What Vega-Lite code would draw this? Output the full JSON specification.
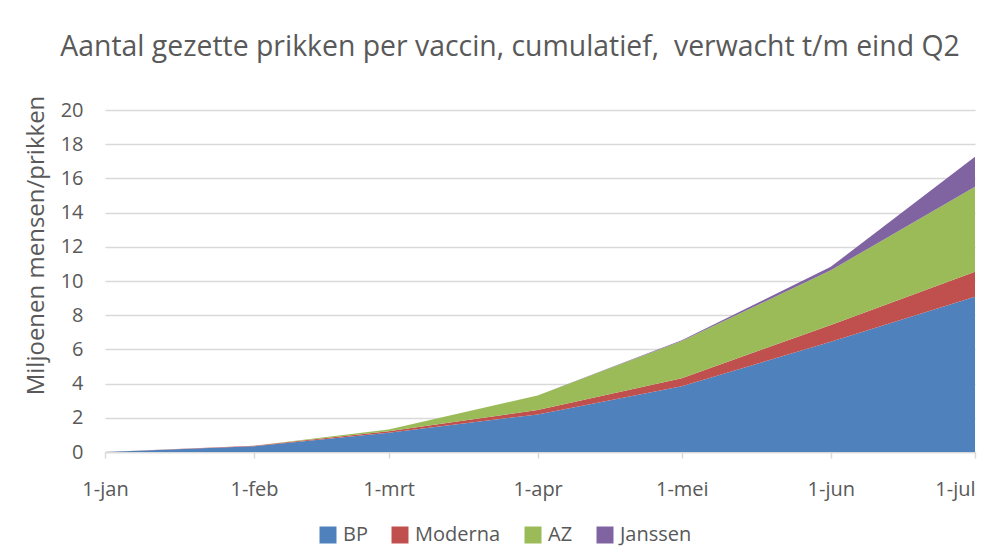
{
  "$schema": "https://vega.github.io/schema/vega-lite/v6.json",
  "width": 870,
  "height": 342,
  "autosize": "none",
  "padding": {"left": 105, "top": 110, "right": 25, "bottom": 103},
  "background": "white",
  "title": {
    "text": "Aantal gezette prikken per vaccin, cumulatief,\u00a0 verwacht t/m eind Q2",
    "font": "Open Sans",
    "fontSize": 28.4,
    "fontWeight": "normal",
    "color": "#595959",
    "anchor": "middle",
    "dx": -30,
    "offset": 33
  },
  "data": {
    "values": [
      {"date": "2021-01-01", "vaccin": "BP", "value": 0},
      {"date": "2021-02-01", "vaccin": "BP", "value": 0.33},
      {"date": "2021-03-01", "vaccin": "BP", "value": 1.12},
      {"date": "2021-04-01", "vaccin": "BP", "value": 2.2},
      {"date": "2021-05-01", "vaccin": "BP", "value": 3.85},
      {"date": "2021-06-01", "vaccin": "BP", "value": 6.45},
      {"date": "2021-07-01", "vaccin": "BP", "value": 9.08},
      {"date": "2021-01-01", "vaccin": "Moderna", "value": 0},
      {"date": "2021-02-01", "vaccin": "Moderna", "value": 0.03},
      {"date": "2021-03-01", "vaccin": "Moderna", "value": 0.1},
      {"date": "2021-04-01", "vaccin": "Moderna", "value": 0.25},
      {"date": "2021-05-01", "vaccin": "Moderna", "value": 0.47},
      {"date": "2021-06-01", "vaccin": "Moderna", "value": 0.98},
      {"date": "2021-07-01", "vaccin": "Moderna", "value": 1.46},
      {"date": "2021-01-01", "vaccin": "AZ", "value": 0},
      {"date": "2021-02-01", "vaccin": "AZ", "value": 0.01},
      {"date": "2021-03-01", "vaccin": "AZ", "value": 0.1},
      {"date": "2021-04-01", "vaccin": "AZ", "value": 0.85},
      {"date": "2021-05-01", "vaccin": "AZ", "value": 2.17},
      {"date": "2021-06-01", "vaccin": "AZ", "value": 3.2},
      {"date": "2021-07-01", "vaccin": "AZ", "value": 4.97},
      {"date": "2021-01-01", "vaccin": "Janssen", "value": 0},
      {"date": "2021-02-01", "vaccin": "Janssen", "value": 0},
      {"date": "2021-03-01", "vaccin": "Janssen", "value": 0},
      {"date": "2021-04-01", "vaccin": "Janssen", "value": 0},
      {"date": "2021-05-01", "vaccin": "Janssen", "value": 0.05},
      {"date": "2021-06-01", "vaccin": "Janssen", "value": 0.2},
      {"date": "2021-07-01", "vaccin": "Janssen", "value": 1.76}
    ]
  },
  "transform": [
    {"calculate": "indexof(['BP','Moderna','AZ','Janssen'], datum.vaccin)", "as": "stackOrder"}
  ],
  "mark": {"type": "area", "interpolate": "linear"},
  "encoding": {
    "x": {
      "field": "date",
      "type": "temporal",
      "scale": {
        "type": "utc",
        "domain": [
          {"year": 2021, "month": 1, "date": 1, "utc": true},
          {"year": 2021, "month": 7, "date": 1, "utc": true}
        ]
      },
      "axis": {
        "title": null,
        "values": [
          {"year": 2021, "month": 1, "date": 1, "utc": true},
          {"year": 2021, "month": 2, "date": 1, "utc": true},
          {"year": 2021, "month": 3, "date": 1, "utc": true},
          {"year": 2021, "month": 4, "date": 1, "utc": true},
          {"year": 2021, "month": 5, "date": 1, "utc": true},
          {"year": 2021, "month": 6, "date": 1, "utc": true},
          {"year": 2021, "month": 7, "date": 1, "utc": true}
        ],
        "labelExpr": "'1-' + ['jan','feb','mrt','apr','mei','jun','jul','aug'][utcmonth(datum.value)]",
        "labelAlign": {"condition": {"test": "utcmonth(datum.value) == 6", "value": "right"}, "value": "center"},
        "labelFont": "Open Sans",
        "labelFontSize": 20,
        "labelColor": "#595959",
        "labelPadding": 21,
        "labelFlush": false,
        "labelOverlap": false,
        "grid": false,
        "domainColor": "#d9d9d9",
        "domainWidth": 1.5,
        "tickColor": "#d9d9d9",
        "tickSize": 6,
        "tickWidth": 1.5
      }
    },
    "y": {
      "field": "value",
      "type": "quantitative",
      "stack": "zero",
      "scale": {"domain": [0, 20], "nice": false},
      "axis": {
        "title": "Miljoenen mensen/prikken",
        "titleFont": "Open Sans",
        "titleFontSize": 24,
        "titleFontWeight": "normal",
        "titleColor": "#595959",
        "titlePadding": 12,
        "titleY": 135,
        "values": [0, 2, 4, 6, 8, 10, 12, 14, 16, 18, 20],
        "labelFont": "Open Sans",
        "labelFontSize": 20,
        "labelColor": "#595959",
        "labelPadding": 22,
        "ticks": false,
        "domain": false,
        "gridColor": "#d9d9d9",
        "gridWidth": 1.3
      }
    },
    "color": {
      "field": "vaccin",
      "type": "nominal",
      "sort": ["BP", "Moderna", "AZ", "Janssen"],
      "scale": {
        "domain": ["BP", "Moderna", "AZ", "Janssen"],
        "range": ["#4f81bd", "#c0504d", "#9bbb59", "#8064a2"]
      },
      "legend": {
        "title": null,
        "orient": "none",
        "legendX": 213,
        "legendY": 415,
        "direction": "horizontal",
        "symbolType": "square",
        "symbolSize": 289,
        "symbolStrokeWidth": 0,
        "labelFont": "Open Sans",
        "labelFontSize": 20,
        "labelColor": "#595959",
        "labelOffset": 5,
        "columnPadding": 22
      }
    },
    "order": {"field": "stackOrder", "type": "quantitative", "sort": "ascending"}
  },
  "config": {"view": {"stroke": null}}
}
